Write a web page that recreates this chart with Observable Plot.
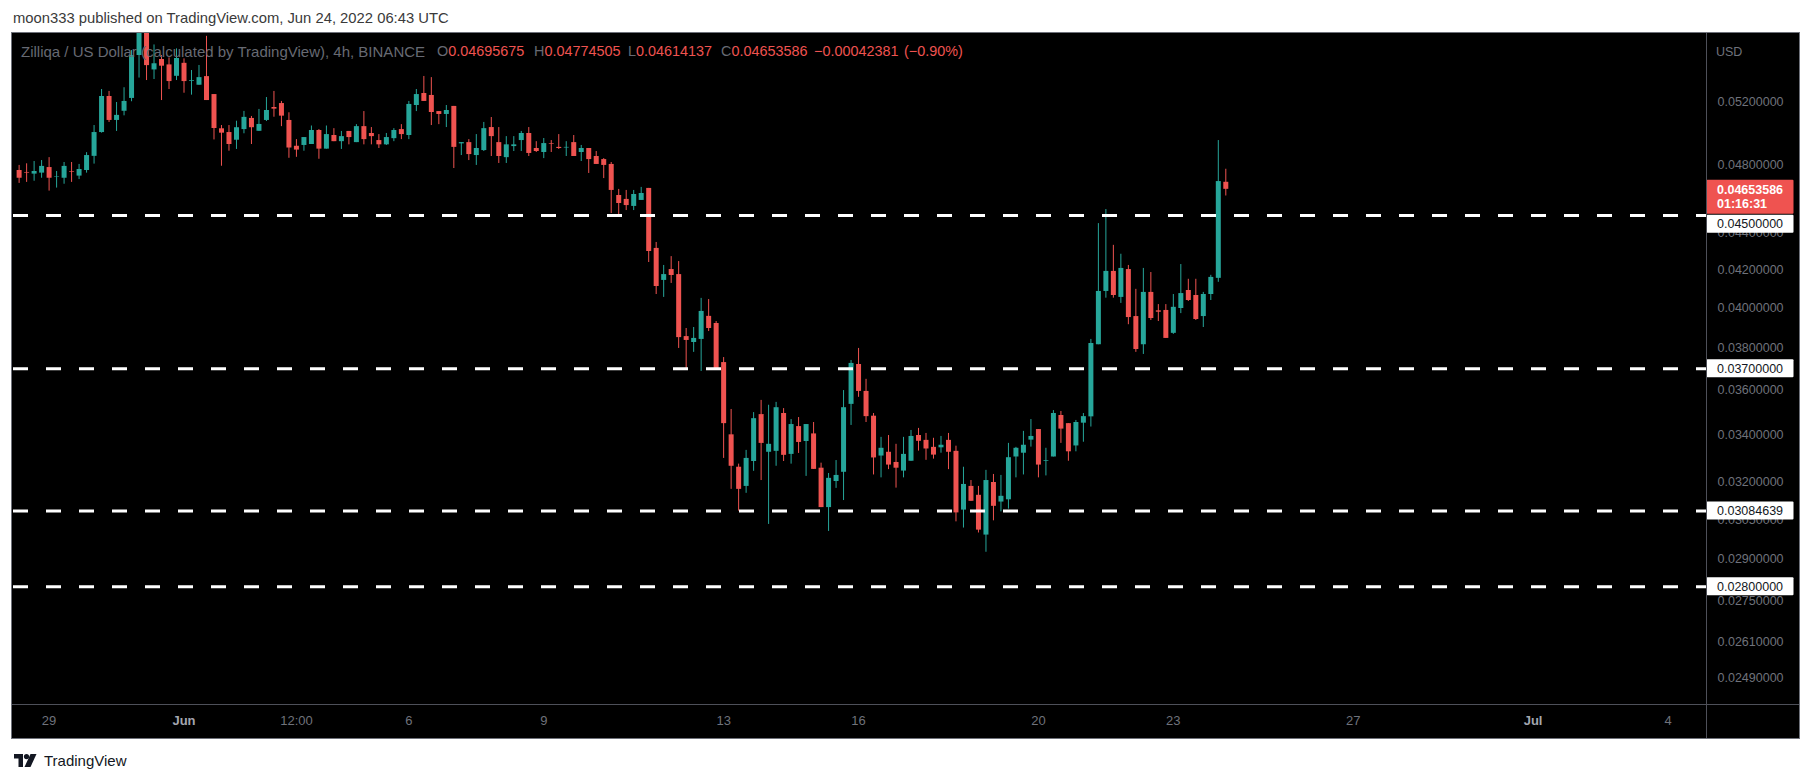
<!DOCTYPE html>
<html><head><meta charset="utf-8">
<script src="https://cdn.jsdelivr.net/npm/d3@7"></script>
<script src="https://cdn.jsdelivr.net/npm/@observablehq/plot@0.6"></script>
<style>
html,body{margin:0;padding:0}
body{width:1813px;height:783px;background:#fff;position:relative;overflow:hidden;font-family:"Liberation Sans",Arial,sans-serif}
#pub{position:absolute;left:13px;top:10px;font-size:14.8px;line-height:17px;color:#3a3a3a;white-space:nowrap}
#box{position:absolute;left:12px;top:33px;width:1787px;height:705px;background:#000;}
#frame{position:absolute;left:11px;top:32px;width:1787px;height:705px;border:1px solid #6e717a;pointer-events:none}
#chart{position:absolute;left:0;top:0}
.sep{position:absolute;background:#4e5059}
#legend{position:absolute;left:0;top:10px;font-size:14.4px;line-height:17px;white-space:nowrap;color:#676a73}
#legend span{position:absolute;top:0}
#legend .v{color:#ef5350}
#usd{position:absolute;left:1704px;top:11px;font-size:12.5px;line-height:16px;color:#6f727b}
#logo{position:absolute;left:14px;top:752px;display:flex;align-items:center;gap:6px;font-size:15px;color:#131722}
</style>
</head><body>
<div id="pub">moon333 published on TradingView.com, Jun 24, 2022 06:43 UTC</div>
<div id="box">
  <div id="chart"></div>
  <div class="sep" style="left:1694px;top:0;width:1px;height:705px"></div>
  <div class="sep" style="left:0;top:671px;width:1787px;height:1px"></div>
  <div id="legend">
    <span style="left:9px;font-size:15px">Zilliqa / US Dollar (calculated by TradingView), 4h, BINANCE</span>
    <span style="left:425px">O<span class="v" style="position:static">0.04695675</span></span>
    <span style="left:522px">H<span class="v" style="position:static">0.04774505</span></span>
    <span style="left:616px">L<span class="v" style="position:static">0.04614137</span></span>
    <span style="left:709px">C<span class="v" style="position:static">0.04653586</span></span>
    <span class="v" style="left:802px">−0.00042381</span>
    <span class="v" style="left:892px">(−0.90%)</span>
  </div>
  <div id="usd">USD</div>
</div>
<div id="frame"></div>
<div id="logo"><svg width="24" height="14" viewBox="0 0 24 14"><path d="M0 0h9v13h-4.5v-8.5h-4.5z" fill="#131722"/><circle cx="12.5" cy="2.6" r="2.6" fill="#131722"/><path d="M16.5 0h6l-6 13h-6z" fill="#131722"/></svg><span>TradingView</span></div>
<script>
// ---- data (ZIL/USD, 4h candles, first candle 2022-05-28 08:00 UTC) ----
const firstCandle = "2022-05-28T08:00:00Z";
const stepHours = 4;
const open = [0.04767,0.04755,0.04745,0.04751,0.04785,0.04727,0.04720,0.04761,0.04733,0.04767,
0.04854,0.05004,0.05240,0.05082,0.05142,0.05227,0.05522,0.05900,0.05421,0.05494,
0.05456,0.05377,0.05467,0.05343,0.05316,0.05375,0.05253,0.05028,0.05004,0.04955,
0.05023,0.05095,0.05012,0.05082,0.05167,0.05193,0.05082,0.04917,0.04922,0.04928,
0.05017,0.04899,0.04985,0.04946,0.05011,0.04940,0.05042,0.04998,0.04953,0.04926,
0.04965,0.05023,0.04985,0.05180,0.05260,0.05247,0.05140,0.05121,0.05174,0.04932,
0.04940,0.04859,0.04890,0.05036,0.04940,0.04846,0.04915,0.04953,0.04998,0.04903,
0.04878,0.04934,0.04910,0.04906,0.04940,0.04878,0.04903,0.04853,0.04834,0.04804,
0.04617,0.04594,0.04553,0.04588,0.04659,0.04315,0.04142,0.04200,0.04173,0.03855,
0.03826,0.03841,0.03956,0.03920,0.03729,0.03400,0.03262,0.03183,0.03286,0.03489,
0.03325,0.03329,0.03494,0.03316,0.03436,0.03371,0.03404,0.03258,0.03098,0.03203,
0.03241,0.03535,0.03720,0.03594,0.03482,0.03309,0.03325,0.03282,0.03246,0.03287,
0.03397,0.03376,0.03346,0.03344,0.03376,0.03329,0.03088,0.03183,0.03147,0.02991,
0.03199,0.03120,0.03129,0.03305,0.03321,0.03377,0.03423,0.03287,0.03305,0.03485,
0.03449,0.03352,0.03451,0.03479,0.03815,0.04084,0.04190,0.04053,0.04200,0.03955,
0.03815,0.04079,0.03984,0.03986,0.03871,0.03996,0.04089,0.04063,0.03955,0.04068,
0.04153,0.04695675];
const high = [0.04798,0.04808,0.04822,0.04828,0.04846,0.04761,0.04816,0.04816,0.04804,0.04877,
0.05049,0.05287,0.05274,0.05200,0.05299,0.05557,0.06000,0.06050,0.05597,0.05522,
0.05505,0.05569,0.05498,0.05417,0.05452,0.05659,0.05253,0.05049,0.05049,0.05077,
0.05141,0.05108,0.05154,0.05233,0.05274,0.05207,0.05132,0.04959,0.04972,0.05046,
0.05023,0.05046,0.05029,0.05011,0.05011,0.05055,0.05140,0.05036,0.04991,0.04998,
0.05029,0.05055,0.05207,0.05287,0.05376,0.05368,0.05140,0.05180,0.05174,0.04940,
0.04959,0.04991,0.05069,0.05101,0.05036,0.04978,0.04978,0.05011,0.05036,0.04946,
0.04966,0.04953,0.04991,0.04946,0.04985,0.04922,0.04903,0.04884,0.04840,0.04816,
0.04653,0.04647,0.04647,0.04665,0.04659,0.04348,0.04222,0.04270,0.04243,0.03895,
0.03900,0.04048,0.04042,0.03930,0.03753,0.03512,0.03275,0.03333,0.03498,0.03553,
0.03531,0.03544,0.03516,0.03467,0.03476,0.03445,0.03454,0.03279,0.03236,0.03290,
0.03598,0.03739,0.03797,0.03650,0.03494,0.03389,0.03397,0.03359,0.03389,0.03419,
0.03428,0.03406,0.03385,0.03393,0.03406,0.03351,0.03262,0.03207,0.03183,0.03249,
0.03232,0.03228,0.03363,0.03346,0.03415,0.03467,0.03423,0.03342,0.03507,0.03503,
0.03449,0.03463,0.03494,0.03841,0.04454,0.04535,0.04332,0.04283,0.04222,0.04095,
0.04206,0.04184,0.04016,0.04016,0.04068,0.04227,0.04148,0.04148,0.04079,0.04169,
0.04953,0.04774505];
const low = [0.04689,0.04695,0.04702,0.04720,0.04643,0.04661,0.04684,0.04695,0.04712,0.04751,
0.04806,0.05000,0.05069,0.05011,0.05112,0.05205,0.05365,0.05348,0.05355,0.05213,
0.05287,0.05348,0.05262,0.05249,0.05316,0.05213,0.04957,0.04793,0.04886,0.04897,
0.04996,0.04928,0.05012,0.05075,0.05103,0.05042,0.04842,0.04848,0.04886,0.04928,
0.04836,0.04899,0.04946,0.04897,0.04926,0.04940,0.04926,0.04926,0.04903,0.04922,
0.04946,0.04959,0.04959,0.05140,0.05207,0.05049,0.05055,0.05036,0.04779,0.04859,
0.04828,0.04798,0.04884,0.04853,0.04810,0.04810,0.04884,0.04884,0.04853,0.04878,
0.04840,0.04878,0.04897,0.04853,0.04853,0.04822,0.04749,0.04804,0.04718,0.04512,
0.04489,0.04529,0.04529,0.04588,0.04238,0.04068,0.04053,0.04126,0.03797,0.03696,
0.03778,0.03687,0.03880,0.03697,0.03299,0.03171,0.03084,0.03155,0.03245,0.03207,
0.03032,0.03266,0.03286,0.03275,0.03320,0.03224,0.03253,0.03098,0.03005,0.03175,
0.03126,0.03441,0.03567,0.03454,0.03230,0.03218,0.03252,0.03176,0.03218,0.03287,
0.03330,0.03291,0.03296,0.03321,0.03252,0.03042,0.03018,0.03123,0.02999,0.02926,
0.03046,0.03081,0.03092,0.03218,0.03230,0.03347,0.03218,0.03226,0.03305,0.03363,
0.03287,0.03327,0.03368,0.03434,0.03815,0.04049,0.04049,0.04022,0.03914,0.03778,
0.03768,0.03935,0.03930,0.03846,0.03866,0.03970,0.04032,0.03935,0.03900,0.04037,
0.04132,0.04614137];
const close = [0.04720,0.04751,0.04761,0.04792,0.04720,0.04730,0.04792,0.04757,0.04773,0.04859,
0.05004,0.05240,0.05082,0.05115,0.05207,0.05522,0.05900,0.05451,0.05464,0.05447,
0.05341,0.05501,0.05341,0.05348,0.05368,0.05213,0.05030,0.05000,0.04928,0.05035,
0.05102,0.05035,0.05056,0.05147,0.05156,0.05110,0.04906,0.04893,0.04972,0.05017,
0.04899,0.04991,0.04946,0.04978,0.04972,0.05042,0.04959,0.04978,0.04926,0.04972,
0.05017,0.04991,0.05187,0.05253,0.05207,0.05134,0.05121,0.05147,0.04910,0.04940,
0.04865,0.04903,0.05029,0.04978,0.04853,0.04926,0.04926,0.04998,0.04872,0.04884,
0.04934,0.04930,0.04903,0.04910,0.04853,0.04903,0.04834,0.04804,0.04798,0.04647,
0.04570,0.04558,0.04623,0.04629,0.04298,0.04110,0.04173,0.04168,0.03850,0.03836,
0.03846,0.03981,0.03895,0.03697,0.03449,0.03266,0.03171,0.03299,0.03471,0.03363,
0.03359,0.03520,0.03312,0.03445,0.03367,0.03445,0.03253,0.03098,0.03216,0.03228,
0.03520,0.03725,0.03594,0.03480,0.03301,0.03342,0.03271,0.03258,0.03316,0.03393,
0.03372,0.03339,0.03313,0.03355,0.03325,0.03077,0.03191,0.03123,0.03010,0.03207,
0.03103,0.03143,0.03302,0.03342,0.03355,0.03393,0.03271,0.03290,0.03494,0.03425,
0.03327,0.03454,0.03480,0.03821,0.04084,0.04190,0.04063,0.04206,0.03950,0.03792,
0.04079,0.03945,0.03977,0.03846,0.04002,0.04073,0.04037,0.03940,0.04068,0.04158,
0.04700,0.04653586];

// horizontal support/resistance levels drawn by the author
const levels = [0.045, 0.037, 0.03084639, 0.028];
// price-scale ticks
const yTicks = [0.052, 0.048, 0.044, 0.042, 0.040, 0.038, 0.036, 0.034, 0.032, 0.0305, 0.029, 0.0275, 0.0261, 0.0249];
// time-scale ticks
const xTickDates = ["2022-05-29","2022-06-01","2022-06-03T12:00","2022-06-06","2022-06-09","2022-06-13","2022-06-16","2022-06-20","2022-06-23","2022-06-27","2022-07-01","2022-07-04"];
const xTickLabels = ["29","Jun","12:00","6","9","13","16","20","23","27","Jul","4"];
const monthLabels = ["Jun","Jul"];
const lastPrice = 0.04653586;
const countdown = "01:16:31";

const UP = "#26a69a", DOWN = "#ef5350";

const t0 = new Date(firstCandle).getTime();
const candles = open.map((o, i) => ({
  t: new Date(t0 + i * stepHours * 3600e3),
  open: o, high: high[i], low: low[i], close: close[i],
  col: close[i] >= o ? UP : DOWN
}));

const xTicks = xTickDates.map(s => new Date(s + (s.includes("T") ? ":00Z" : "T00:00:00Z")));
const labelOf = new Map(xTicks.map((d, i) => [+d, xTickLabels[i]]));
const regTicks = xTicks.filter((d, i) => !monthLabels.includes(xTickLabels[i]));
const monTicks = xTicks.filter((d, i) => monthLabels.includes(xTickLabels[i]));

const W = 1787, H = 705;
const plot = Plot.plot({
  width: W, height: H,
  marginLeft: 1, marginRight: 93, marginTop: 0, marginBottom: 34,
  style: {background: "transparent", color: "#6f727b", fontFamily: "'Liberation Sans', Arial, sans-serif", fontSize: "12.5px", overflow: "visible"},
  x: {type: "utc", domain: [new Date(Date.UTC(2022,4,28,5,0)), new Date(Date.UTC(2022,6,4,20,33))]},
  y: {type: "log", domain: [0.024085, 0.056795]},
  color: {type: "identity"},
  marks: [
    Plot.ruleX(candles, {x: "t", y1: "low", y2: "high", stroke: "col", strokeWidth: 1, clip: true}),
    Plot.ruleX(candles, {x: "t", y1: "open", y2: "close", stroke: "col", strokeWidth: 5, strokeLinecap: "butt", clip: true}),
    Plot.ruleY(levels, {stroke: "#ffffff", strokeWidth: 3, strokeDasharray: "15,18"}),
    Plot.axisY({anchor: "right", ticks: yTicks, tickFormat: d => d.toFixed(8), tickSize: 0, tickPadding: 11, label: null, fill: "#6f727b", fontSize: 12.5}),
    Plot.axisX({anchor: "bottom", ticks: regTicks, tickFormat: d => labelOf.get(+d), tickSize: 0, tickPadding: 11, label: null, fill: "#6f727b", fontSize: 13}),
    Plot.axisX({anchor: "bottom", ticks: monTicks, tickFormat: d => labelOf.get(+d), tickSize: 0, tickPadding: 11, label: null, fill: "#a3a6af", fontSize: 13, fontWeight: "bold"})
  ]
});
document.getElementById("chart").appendChild(plot);

// price labels on the scale, placed with the plot's own y scale
const ys = plot.scale("y");
const axisX0 = W - 93;
const svg = d3.select(plot);
const g = svg.append("g").attr("text-anchor", "start").attr("font-size", 12.5);
// current price label (red), then level labels pushed down if they would overlap it
const yLast = ys.apply(lastPrice);
const lastTop = yLast - 9, lastBottom = yLast + 25;
levels.forEach(v => {
  let yc = ys.apply(v);
  if (yc - 9 < lastBottom + 1 && yc + 9 > lastTop) yc = lastBottom + 10;
  g.append("rect").attr("x", axisX0 + 0.5).attr("y", yc - 9).attr("width", 87).attr("height", 18).attr("fill", "#fff").attr("rx", 1);
  g.append("text").attr("x", axisX0 + 11).attr("y", yc).attr("dy", "0.35em").attr("fill", "#131722").text(v.toFixed(8));
});
g.append("rect").attr("x", axisX0 + 0.5).attr("y", lastTop).attr("width", 87).attr("height", 34).attr("fill", DOWN).attr("rx", 1);
g.append("text").attr("x", axisX0 + 11).attr("y", yLast + 1).attr("dy", "0.35em").attr("fill", "#fff").attr("font-weight", "bold").text(lastPrice.toFixed(8));
g.append("text").attr("x", axisX0 + 11).attr("y", yLast + 15).attr("dy", "0.35em").attr("fill", "#fff").attr("font-weight", "bold").text(countdown);
</script>
</body></html>
